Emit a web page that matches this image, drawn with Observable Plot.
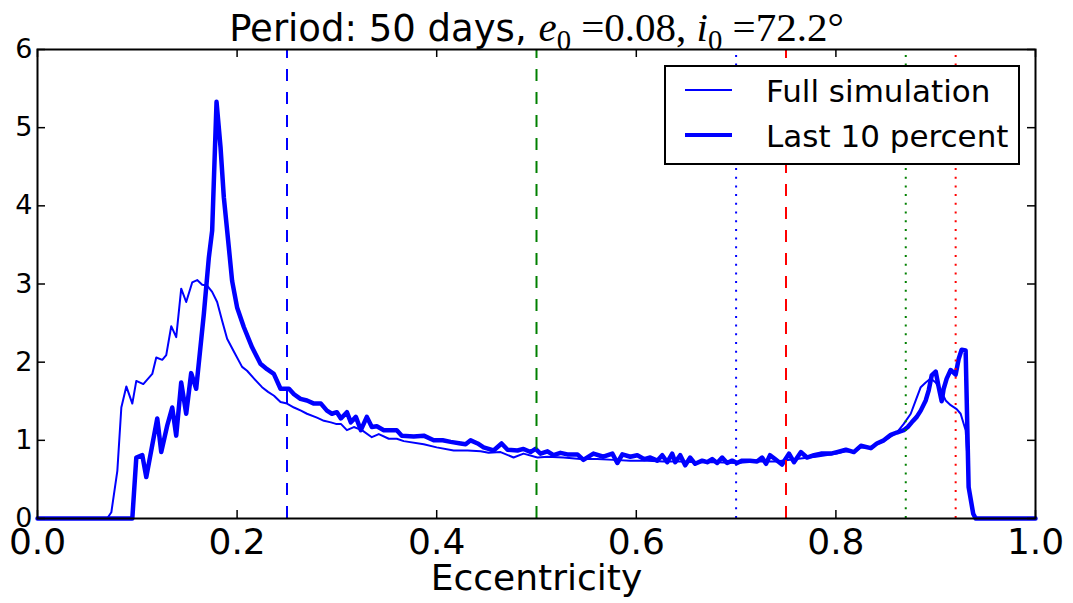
<!DOCTYPE html>
<html>
<head>
<meta charset="utf-8">
<script src="https://cdn.jsdelivr.net/npm/d3@7"></script>
<script src="https://cdn.jsdelivr.net/npm/@observablehq/plot@0.6"></script>
<style>
  html, body { margin: 0; padding: 0; background: white; }
  #wrap { position: relative; width: 1073px; height: 603px; overflow: hidden; background: white; }
  #title { height: 40px; line-height: 40px; text-align: center; white-space: nowrap; position: relative; top: 7px;
           font-family: "DejaVu Sans", sans-serif; font-size: 37px; color: black; }
  #title .math { font-family: "Liberation Serif", serif; font-size: 41px; }
  #title .math sub { font-size: 70%; vertical-align: -0.3em; line-height: 0; }
  #legend { position: absolute; left: 664px; top: 65px; width: 356px; height: 100px; box-sizing: border-box;
            border: 2px solid black; background: white; font-family: "DejaVu Sans", sans-serif; font-size: 31px; }
  #legend .sample { position: absolute; left: 19px; width: 47px; background: #0000ff; }
  #legend .lab { position: absolute; left: 100px; line-height: 31px; white-space: nowrap; color: black; }
</style>
</head>
<body>
<div id="wrap">
  <div id="title"><span>Period: 50 days, </span><span class="math"><i>e</i><sub>0</sub> =0.08, <i>i</i><sub>0</sub> =72.2°</span></div>
  <div id="chart"></div>
  <div id="legend"></div>
</div>
<script>
// ---- data ----
const fullE = [0, 0.0698, 0.074, 0.080, 0.084, 0.089, 0.095, 0.099, 0.106, 0.115, 0.119, 0.125, 0.129, 0.134, 0.139, 0.144, 0.149, 0.155, 0.160, 0.165, 0.170, 0.175, 0.180, 0.185, 0.190, 0.197, 0.205, 0.210, 0.217, 0.225, 0.231, 0.237, 0.2435, 0.250, 0.257, 0.264, 0.270, 0.280, 0.287, 0.294, 0.299, 0.304, 0.310, 0.317, 0.325, 0.335, 0.342, 0.352, 0.360, 0.367, 0.387, 0.400, 0.417, 0.431, 0.444, 0.452, 0.464, 0.477, 0.487, 0.501, 0.511, 0.527, 0.544, 0.561, 0.577, 0.594, 0.611, 0.627, 0.644, 0.661, 0.681, 0.700, 0.720, 0.740, 0.760, 0.780, 0.801, 0.810, 0.818, 0.825, 0.835, 0.841, 0.848, 0.855, 0.861, 0.868, 0.875, 0.880, 0.885, 0.890, 0.895, 0.900, 0.905, 0.910, 0.915, 0.921, 0.925, 0.930, 0.934, 0.937, 0.942, 1.0];
const fullDensity = [0, 0, 0.08, 0.61, 1.42, 1.69, 1.47, 1.76, 1.72, 1.85, 2.06, 2.03, 2.09, 2.46, 2.32, 2.94, 2.77, 3.02, 3.05, 2.99, 2.98, 2.90, 2.77, 2.53, 2.30, 2.13, 1.94, 1.89, 1.79, 1.68, 1.62, 1.57, 1.49, 1.47, 1.42, 1.38, 1.34, 1.29, 1.25, 1.23, 1.21, 1.21, 1.13, 1.17, 1.13, 1.04, 1.08, 1.02, 1.02, 0.99, 0.95, 0.91, 0.87, 0.87, 0.86, 0.84, 0.85, 0.78, 0.83, 0.78, 0.79, 0.78, 0.76, 0.76, 0.75, 0.74, 0.74, 0.73, 0.73, 0.72, 0.72, 0.71, 0.73, 0.73, 0.76, 0.79, 0.83, 0.86, 0.85, 0.91, 0.90, 0.95, 0.99, 1.05, 1.10, 1.21, 1.34, 1.51, 1.68, 1.74, 1.79, 1.74, 1.64, 1.51, 1.45, 1.40, 1.34, 1.13, 0.32, 0.06, 0, 0];

const lastE = [0, 0.095, 0.099, 0.105, 0.109, 0.120, 0.124, 0.130, 0.135, 0.139, 0.144, 0.149, 0.154, 0.159, 0.1667, 0.1717, 0.175, 0.1794, 0.1834, 0.1867, 0.1917, 0.195, 0.200, 0.2067, 0.215, 0.2234, 0.230, 0.2368, 0.2435, 0.252, 0.257, 0.2635, 0.270, 0.277, 0.284, 0.290, 0.295, 0.300, 0.304, 0.310, 0.314, 0.319, 0.324, 0.330, 0.335, 0.340, 0.347, 0.354, 0.360, 0.365, 0.377, 0.387, 0.397, 0.406, 0.414, 0.424, 0.429, 0.434, 0.441, 0.447, 0.452, 0.457, 0.465, 0.471, 0.481, 0.487, 0.494, 0.499, 0.504, 0.511, 0.517, 0.524, 0.531, 0.541, 0.547, 0.557, 0.567, 0.576, 0.581, 0.586, 0.594, 0.601, 0.608, 0.614, 0.621, 0.626, 0.631, 0.636, 0.639, 0.644, 0.649, 0.654, 0.659, 0.666, 0.671, 0.676, 0.681, 0.686, 0.691, 0.696, 0.701, 0.706, 0.714, 0.721, 0.726, 0.730, 0.734, 0.739, 0.746, 0.753, 0.758, 0.765, 0.771, 0.778, 0.785, 0.795, 0.801, 0.810, 0.818, 0.825, 0.835, 0.841, 0.848, 0.855, 0.861, 0.868, 0.872, 0.876, 0.881, 0.885, 0.890, 0.893, 0.896, 0.900, 0.903, 0.906, 0.908, 0.911, 0.915, 0.920, 0.923, 0.926, 0.930, 0.933, 0.9376, 0.940, 1.0];
const lastDensity = [0, 0, 0.78, 0.81, 0.53, 1.28, 0.85, 1.19, 1.42, 1.06, 1.74, 1.34, 1.86, 1.66, 2.62, 3.34, 3.68, 5.33, 4.75, 4.11, 3.47, 3.04, 2.70, 2.45, 2.19, 1.98, 1.91, 1.85, 1.66, 1.66, 1.59, 1.53, 1.51, 1.47, 1.47, 1.38, 1.34, 1.36, 1.28, 1.36, 1.23, 1.30, 1.13, 1.30, 1.17, 1.18, 1.13, 1.13, 1.13, 1.06, 1.05, 1.06, 1.00, 1.00, 0.98, 0.96, 0.95, 1.00, 0.96, 0.91, 0.89, 0.87, 0.96, 0.88, 0.87, 0.89, 0.85, 0.89, 0.83, 0.86, 0.81, 0.84, 0.82, 0.82, 0.75, 0.83, 0.79, 0.83, 0.71, 0.82, 0.79, 0.81, 0.76, 0.78, 0.74, 0.81, 0.72, 0.83, 0.72, 0.81, 0.68, 0.78, 0.70, 0.74, 0.72, 0.76, 0.71, 0.78, 0.71, 0.74, 0.71, 0.74, 0.74, 0.73, 0.78, 0.70, 0.81, 0.76, 0.69, 0.83, 0.72, 0.85, 0.78, 0.81, 0.83, 0.83, 0.85, 0.88, 0.85, 0.93, 0.90, 0.96, 1.00, 1.07, 1.10, 1.13, 1.17, 1.23, 1.30, 1.38, 1.51, 1.64, 1.83, 1.88, 1.68, 1.50, 1.66, 1.79, 1.90, 1.84, 2.04, 2.16, 2.15, 0.40, 0.06, 0, 0];

const dashedLinesE = [0.25, 0.50, 0.75];
const dashedLinesColor = ["#0000ff", "#008000", "#ff0000"];
const dottedLinesE = [0.70, 0.87, 0.92];
const dottedLinesColor = ["#0000ff", "#008000", "#ff0000"];

const xTicks = [0, 0.2, 0.4, 0.6, 0.8, 1.0];
const yTicks = [0, 1, 2, 3, 4, 5, 6];
const xDomain = [0, 1];
const yDomain = [0, 6];
const seriesNames = ["Full simulation", "Last 10 percent"];

// ---- build tables ----
const full = fullE.map((e, i) => ({e, d: fullDensity[i]}));
const last = lastE.map((e, i) => ({e, d: lastDensity[i]}));
const dashed = dashedLinesE.map((e, i) => ({e, c: dashedLinesColor[i]}));
const dotted = dottedLinesE.map((e, i) => ({e, c: dottedLinesColor[i]}));

const W = 1073, H = 563;
const mL = 37, mR = 38, mT = 9, mB = 85;
const innerW = W - mL - mR, innerH = H - mT - mB;
const tick = 8;

const chart = Plot.plot({
  width: W, height: H,
  marginLeft: mL, marginRight: mR, marginTop: mT, marginBottom: mB,
  x: {domain: xDomain},
  y: {domain: yDomain},
  style: {fontFamily: "DejaVu Sans, sans-serif", background: "white", color: "black", overflow: "visible"},
  marks: [
    Plot.line(full, {x: "e", y: "d", stroke: "#0000ff", strokeWidth: 2, strokeLinejoin: "round"}),
    Plot.line(last, {x: "e", y: "d", stroke: "#0000ff", strokeWidth: 4.5, strokeLinejoin: "round"}),
    Plot.ruleX(dashed, {x: "e", y1: () => yDomain[0], y2: () => yDomain[1], stroke: "c", strokeWidth: 2, strokeDasharray: "12,11"}),
    Plot.ruleX(dotted, {x: "e", y1: () => yDomain[0], y2: () => yDomain[1], stroke: "c", strokeWidth: 2, strokeDasharray: "2,6.7"}),
    Plot.tickX(xTicks, {x: d => d, insetTop: innerH - tick, stroke: "black", strokeWidth: 1.5}),
    Plot.tickX(xTicks, {x: d => d, insetBottom: innerH - tick, stroke: "black", strokeWidth: 1.5}),
    Plot.tickY(yTicks, {y: d => d, insetRight: innerW - tick, stroke: "black", strokeWidth: 1.5}),
    Plot.tickY(yTicks, {y: d => d, insetLeft: innerW - tick, stroke: "black", strokeWidth: 1.5}),
    Plot.frame({stroke: "black", strokeWidth: 2}),
    Plot.axisX({ticks: xTicks, tickSize: 0, tickPadding: 10, tickFormat: d3.format(".1f"), fontSize: 36,
                label: "Eccentricity", labelAnchor: "center", labelOffset: 71, labelArrow: "none"}),
    Plot.axisY({ticks: yTicks, tickSize: 0, tickPadding: 5, tickFormat: d3.format("d"), fontSize: 27, label: null})
  ]
});
document.getElementById("chart").appendChild(chart);

// ---- legend ----
const legend = document.getElementById("legend");
const legendWidths = [2, 4.5];
const legendCenters = [22.7, 67.8];
const legendTextTops = [8.8, 53.5];
seriesNames.forEach((name, i) => {
  const s = document.createElement("div");
  s.className = "sample";
  s.style.height = legendWidths[i] + "px";
  s.style.top = (legendCenters[i] - legendWidths[i] / 2) + "px";
  legend.appendChild(s);
  const t = document.createElement("div");
  t.className = "lab";
  t.style.top = legendTextTops[i] + "px";
  t.textContent = name;
  legend.appendChild(t);
});
</script>
</body>
</html>
